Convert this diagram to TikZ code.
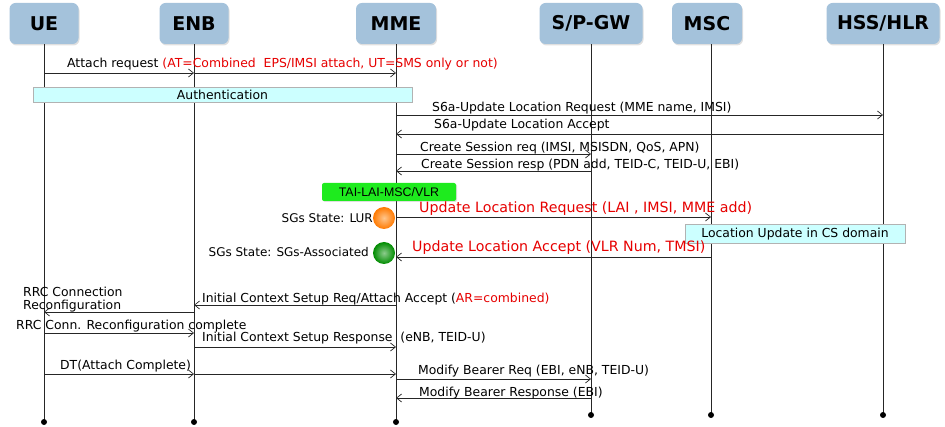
\documentclass[tikz,border=0pt]{standalone}
\usepackage{fontspec}
\setmainfont{DejaVu Sans}
\newfontfamily\arialfont{Liberation Sans}
\usetikzlibrary{arrows.meta,shadows}
\definecolor{hdrblue}{HTML}{A4C2DB}
\definecolor{notecyan}{HTML}{CCFFFF}
\definecolor{taigreen}{HTML}{1EEB1E}
\definecolor{msgred}{HTML}{E60000}
\newcommand{\lblsize}{\fontsize{12.4}{13}\selectfont}
\begin{document}
\begin{tikzpicture}[x=1pt,y=-1pt,
  every node/.style={inner sep=0pt},
  entity/.style={fill=hdrblue,rounded corners=6pt,minimum height=41pt,font=\bfseries\fontsize{19}{19}\selectfont,drop shadow={opacity=0.25,shadow xshift=1pt,shadow yshift=-1.5pt}},
  life/.style={line width=1pt,black!85},
  msg/.style={line width=0.7pt,black!85,-{Straight Barb[length=5pt,width=8pt]}},
  lbl/.style={anchor=base west,font=\lblsize},
  redlbl/.style={anchor=base west,font=\fontsize{14.2}{14}\selectfont,text=msgred},
  note/.style={draw=gray!60,fill=notecyan,font=\lblsize},
  state/.style={anchor=east,font=\fontsize{12}{14}\selectfont},
  sgsball/.style={circle,minimum size=22pt,shading=radial},
  endpt/.style={circle,fill=black,minimum size=6pt}]
\useasboundingbox (0,0) rectangle (945,427);
% entities and lifelines
\node[entity,minimum width=69pt]  (ue)  at (44,23.5)  {UE};
\node[entity,minimum width=69pt]  (enb) at (194,23.5) {ENB};
\node[entity,minimum width=80pt]  (mme) at (396,23.5) {MME};
\node[entity,minimum width=103pt] (gw)  at (591,23.5) {S/P-GW};
\node[entity,minimum width=70pt]  (msc) at (707,23.5) {MSC};
\node[entity,minimum width=113pt] (hss) at (883,23.5) {HSS/HLR};
\foreach \n/\y in {ue/422,enb/422,mme/422,gw/415,hss/415}
  \draw[life] (\n.south) -- (\n |- 0,\y) node[endpt] (\n end) {};
\draw[life] (msc.south) ++(4,0) coordinate (mscL) -- (mscL |- 0,415) node[endpt] (mscend) {};
% attach
\draw[msg] (ue |- 0,73) -- (enb |- 0,73);
\draw[msg] (enb |- 0,73) -- (mme |- 0,73);
\node[lbl] (att) at (67,68) {Attach request \textcolor{msgred}{(AT=Combined~ EPS/IMSI attach, UT=SMS only or not)}};
\node[note,minimum width=379pt,minimum height=15pt] (auth) at (222.5,95) {Authentication};
% S6a and session
\draw[msg] (mme |- 0,115) -- (hss |- 0,115);
\node[lbl] (ulr) at (432,112) {S6a-Update Location Request (MME name, IMSI)};
\draw[msg] (hss |- 0,134) -- (mme |- 0,134);
\node[lbl] (ula) at (434,129) {S6a-Update Location Accept};
\draw[msg] (mme |- 0,154) -- (gw |- 0,154);
\node[lbl] (csr) at (420,152) {Create Session req (IMSI, MSISDN, QoS, APN)};
\draw[msg] (gw |- 0,171) -- (mme |- 0,171);
\node[lbl] (csp) at (421,169) {Create Session resp (PDN add, TEID-C, TEID-U, EBI)};
% SGs location update
\node[fill=taigreen,rounded corners=2pt,minimum width=134pt,minimum height=18pt,font=\arialfont\fontsize{12.4}{12}\selectfont,drop shadow={opacity=0.25,shadow xshift=1pt,shadow yshift=-1pt}] (tai) at (389,192) {TAI-LAI-MSC/VLR};
\draw[msg] (mme |- 0,217) -- (mscL |- 0,217);
\node[redlbl] (lur) at (419,213) {Update Location Request (LAI , IMSI, MME add)};
\node[sgsball,inner color=orange!45!white,outer color=orange!95!red] (ballO) at (384,218) {};
\node[state] (sLUR) at (373,218) {SGs State: LUR};
\node[note,minimum width=220pt,minimum height=19pt] (csd) at (795,234) {Location Update in CS domain};
\draw[msg] (mscL |- 0,257) -- (mme |- 0,257);
\node[redlbl] (lua) at (412,252) {Update Location Accept (VLR Num, TMSI)};
\node[sgsball,inner color=green!55!black!45!white,outer color=green!55!black] (ballG) at (384,253) {};
\node[state] (sAss) at (369,252) {SGs State: SGs-Associated};
% context setup
\draw[msg] (mme |- 0,305) -- (enb |- 0,305);
\node[lbl] (ics) at (202,303) {Initial Context Setup Req/Attach Accept (\textcolor{msgred}{AR=combined)}};
\draw[msg] (enb |- 0,312) -- (ue |- 0,312);
\node[lbl,align=left,anchor=north west] (rrc) at (23,287) {RRC Connection\\Reconfiguration};
\draw[msg] (ue |- 0,333) -- (enb |- 0,333);
\node[lbl] (rrcc) at (16,330) {RRC Conn. Reconfiguration complete};
\draw[msg] (enb |- 0,347) -- (mme |- 0,347);
\node[lbl] (icr) at (202,342) {Initial Context Setup Response~ (eNB, TEID-U)};
\draw[msg] (ue |- 0,374) -- (enb |- 0,374);
\draw[msg] (enb |- 0,374) -- (mme |- 0,374);
\node[lbl] (dt) at (60,370) {DT(Attach Complete)};
% bearer
\draw[msg] (mme |- 0,379) -- (gw |- 0,379);
\node[lbl] (mbq) at (418,374) {Modify Bearer Req (EBI, eNB, TEID-U)};
\draw[msg] (gw |- 0,398) -- (mme |- 0,398);
\node[lbl] (mbr) at (419,397) {Modify Bearer Response (EBI)};
\end{tikzpicture}
\end{document}
